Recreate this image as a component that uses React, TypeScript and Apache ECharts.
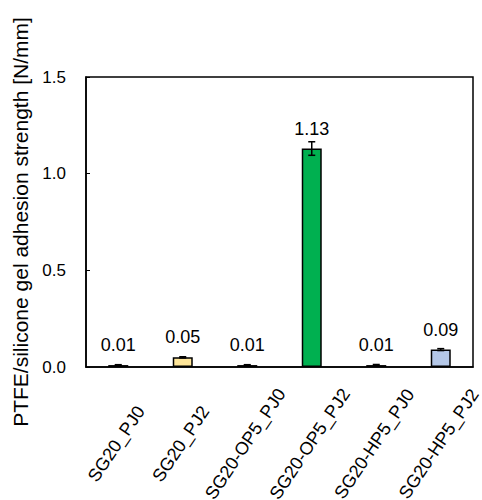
import React, { useEffect, useRef } from "react";
import * as echarts from "echarts";

const categories = ["SG20_PJ0", "SG20_PJ2", "SG20-OP5_PJ0", "SG20-OP5_PJ2", "SG20-HP5_PJ0", "SG20-HP5_PJ2"];
const values = [0.01, 0.05, 0.01, 1.13, 0.01, 0.09];
const errors = [0.002, 0.003, 0.002, 0.035, 0.003, 0.005];
const colors = ["#FFFFFF", "#FFE699", "#FFFFFF", "#00B050", "#FFFFFF", "#B4C7E7"];
const yTicks = { min: 0, max: 1.5, interval: 0.5 };
const yName = "PTFE/silicone gel adhesion strength [N/mm]";

const FONT = "Liberation Sans, Arial, sans-serif";

export default function App() {
  const ref = useRef<HTMLDivElement>(null);
  useEffect(() => {
    if (!ref.current) return;
    const chart = echarts.init(ref.current, null, { renderer: "svg" });
    const errData = values.map((v, i) => [i, v - errors[i], v + errors[i]]);
    chart.setOption({
      animation: false,
      grid: {
        left: 86,
        right: 9,
        top: 77,
        bottom: 133,
        show: true,
        borderColor: "#000",
        borderWidth: 1.5,
        containLabel: false,
        outerBoundsMode: "none",
      },
      xAxis: {
        type: "category",
        data: categories,
        axisLine: { lineStyle: { color: "#000", width: 1.5 } },
        axisTick: { show: false },
        axisLabel: {
          rotate: 56,
          align: "center",
          verticalAlign: "middle",
          margin: 74,
          padding: [0, 7, 10, 0],
          color: "#000",
          fontSize: 18,
          fontFamily: FONT,
          interval: 0,
        },
      },
      yAxis: {
        type: "value",
        min: yTicks.min,
        max: yTicks.max,
        interval: yTicks.interval,
        name: yName,
        nameLocation: "middle",
        nameGap: 54,
        nameTextStyle: { color: "#000", fontSize: 21, fontFamily: FONT },
        axisLine: { show: true, lineStyle: { color: "#000", width: 1.5 } },
        axisTick: { show: true, inside: true, length: 4, lineStyle: { color: "#000", width: 1 } },
        splitLine: { show: false },
        axisLabel: {
          color: "#000",
          fontSize: 17,
          fontFamily: FONT,
          margin: 20,
          formatter: (v: number) => v.toFixed(1),
        },
      },
      series: [
        {
          type: "bar",
          barWidth: 20,
          data: values.map((v, i) => ({
            value: v,
            itemStyle: { color: colors[i], borderColor: "#000", borderWidth: 1.5 },
          })),
          label: {
            show: true,
            position: "top",
            distance: 11,
            color: "#000",
            fontSize: 18,
            fontFamily: FONT,
            formatter: (p: any) => Number(p.value).toFixed(2),
          },
        },
        {
          type: "custom",
          data: errData,
          z: 10,
          renderItem: (params: any, api: any) => {
            const x = api.value(0);
            const lo = api.coord([x, api.value(1)]);
            const hi = api.coord([x, api.value(2)]);
            const hw = 3.5;
            const style = { stroke: "#000", lineWidth: 1.5 };
            return {
              type: "group",
              children: [
                { type: "line", shape: { x1: lo[0], y1: lo[1], x2: hi[0], y2: hi[1] }, style },
                { type: "line", shape: { x1: hi[0] - hw, y1: hi[1], x2: hi[0] + hw, y2: hi[1] }, style },
                { type: "line", shape: { x1: lo[0] - hw, y1: lo[1], x2: lo[0] + hw, y2: lo[1] }, style },
              ],
            };
          },
        },
      ],
    });
    return () => chart.dispose();
  }, []);
  return <div ref={ref} style={{ width: 482, height: 500, position: "absolute", left: 0, top: 0 }} />;
}
